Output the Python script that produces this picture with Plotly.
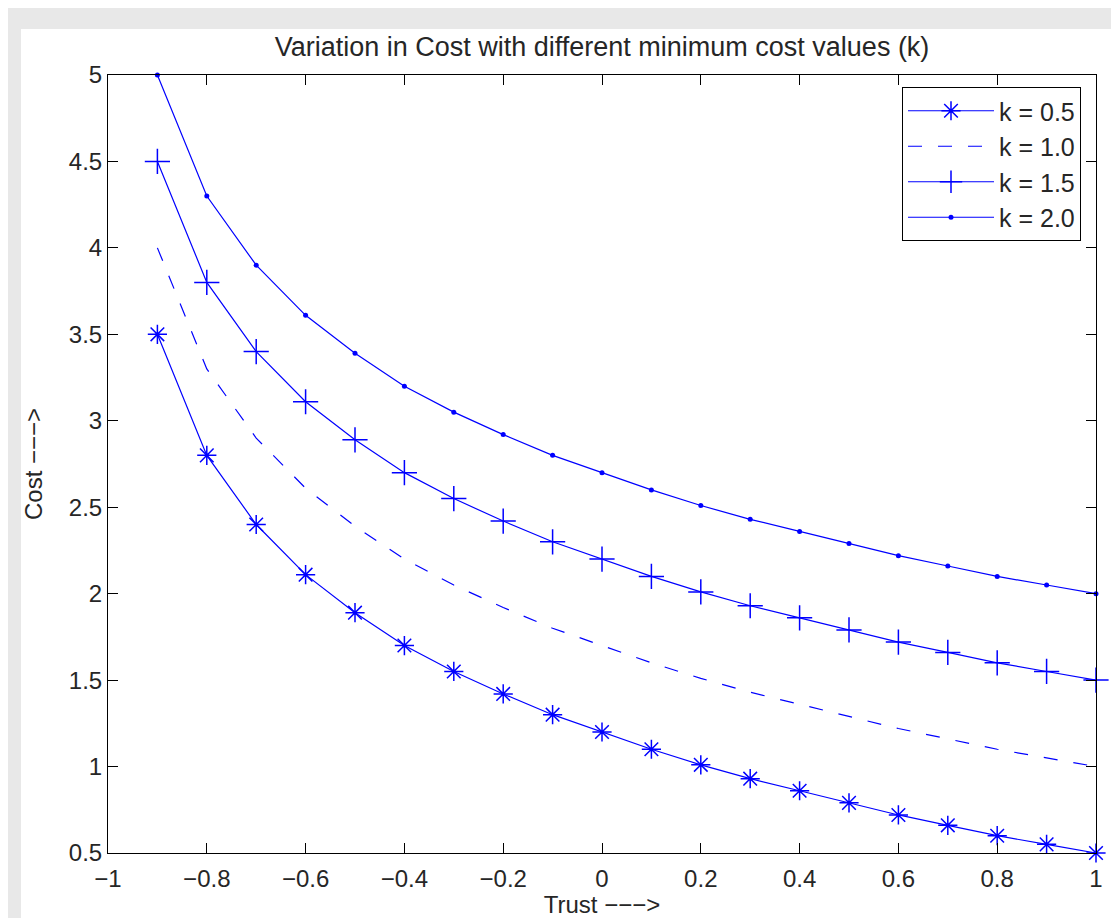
import plotly.graph_objects as go

trust = [-0.9, -0.8, -0.7, -0.6, -0.5, -0.4, -0.3, -0.2, -0.1, 0.0,
         0.1, 0.2, 0.3, 0.4, 0.5, 0.6, 0.7, 0.8, 0.9, 1.0]
cost_k05 = [3.5, 2.8, 2.4, 2.11, 1.89, 1.7, 1.55, 1.42, 1.3, 1.2,
            1.1, 1.01, 0.93, 0.86, 0.79, 0.72, 0.66, 0.6, 0.55, 0.5]
cost_k10 = [4.0, 3.3, 2.9, 2.61, 2.39, 2.2, 2.05, 1.92, 1.8, 1.7,
            1.6, 1.51, 1.43, 1.36, 1.29, 1.22, 1.16, 1.1, 1.05, 1.0]
cost_k15 = [4.5, 3.8, 3.4, 3.11, 2.89, 2.7, 2.55, 2.42, 2.3, 2.2,
            2.1, 2.01, 1.93, 1.86, 1.79, 1.72, 1.66, 1.6, 1.55, 1.5]
cost_k20 = [5.0, 4.3, 3.9, 3.61, 3.39, 3.2, 3.05, 2.92, 2.8, 2.7,
            2.6, 2.51, 2.43, 2.36, 2.29, 2.22, 2.16, 2.1, 2.05, 2.0]
series_names = ["k = 0.5", "k = 1.0", "k = 1.5", "k = 2.0"]

x_ticks = [-1, -0.8, -0.6, -0.4, -0.2, 0, 0.2, 0.4, 0.6, 0.8, 1]
x_ticktext = ["\u22121", "\u22120.8", "\u22120.6", "\u22120.4", "\u22120.2", "0",
              "0.2", "0.4", "0.6", "0.8", "1"]
y_ticks = [0.5, 1, 1.5, 2, 2.5, 3, 3.5, 4, 4.5, 5]
y_ticktext = ["0.5", "1", "1.5", "2", "2.5", "3", "3.5", "4", "4.5", "5"]

BLUE = "#0000ff"
FONT = "Liberation Sans, Arial, sans-serif"
TXT = "#262626"

fig = go.Figure()
fig.add_trace(go.Scatter(
    x=trust, y=cost_k05, name=series_names[0], mode="lines+markers",
    line=dict(color=BLUE, width=1.2),
    marker=dict(symbol="asterisk-open", size=16, color=BLUE, line=dict(color=BLUE, width=1.5)),
    cliponaxis=False))
fig.add_trace(go.Scatter(
    x=trust, y=cost_k10, name=series_names[1], mode="lines",
    line=dict(color=BLUE, width=1.2, dash="14px,16px"),
    cliponaxis=False))
fig.add_trace(go.Scatter(
    x=trust, y=cost_k15, name=series_names[2], mode="lines+markers",
    line=dict(color=BLUE, width=1.2),
    marker=dict(symbol="cross-thin-open", size=18, color=BLUE, line=dict(color=BLUE, width=1.5)),
    cliponaxis=False))
fig.add_trace(go.Scatter(
    x=trust, y=cost_k20, name=series_names[3], mode="lines+markers",
    line=dict(color=BLUE, width=1.2),
    marker=dict(symbol="circle", size=5, color=BLUE),
    cliponaxis=False))

# page is offset by the 8px body margin
W, H = 1111, 910
L, R, T, B = 100, 23, 67, 65
pw, ph = W - L - R, H - T - B

fig.add_shape(type="rect", xref="paper", yref="paper", layer="below",
              x0=(13 - L) / pw, x1=(W + 20 - L) / pw,
              y0=-(B + 20) / ph, y1=(H - B - 21) / ph,
              fillcolor="white", line=dict(width=0))

axis_common = dict(
    showline=True, linecolor="black", linewidth=1, mirror="ticks",
    ticks="inside", ticklen=10, tickcolor="black", tickwidth=1,
    showgrid=False, zeroline=False, automargin=False,
    tickfont=dict(family=FONT, size=24, color=TXT),
)

fig.update_layout(
    width=W, height=H,
    margin=dict(l=L, r=R, t=T, b=B, autoexpand=False),
    paper_bgcolor="#e8e8e8",
    plot_bgcolor="white",
    title=dict(text="Variation in Cost with different minimum cost values (k)",
               x=594 / W, xanchor="center", y=1 - 39 / H, yanchor="middle",
               font=dict(family=FONT, size=27, color=TXT)),
    xaxis=dict(range=[-1, 1], tickvals=x_ticks, ticktext=x_ticktext,
               ticklabelstandoff=4,
               title=dict(text="Trust \u2212\u2212\u2212>", font=dict(family=FONT, size=24, color=TXT), standoff=6),
               **axis_common),
    yaxis=dict(range=[0.5, 5], tickvals=y_ticks, ticktext=y_ticktext,
               title=dict(text="Cost \u2212\u2212\u2212>", font=dict(family=FONT, size=24, color=TXT), standoff=19),
               **axis_common),
    legend=dict(x=(1073 - L) / pw, xanchor="right", y=(H - B - 79) / ph, yanchor="top",
                bgcolor="white", bordercolor="black", borderwidth=1,
                font=dict(family=FONT, size=25, color=TXT),
                tracegroupgap=0, itemwidth=86),
    showlegend=True,
)

fig.write_html("out.html")
